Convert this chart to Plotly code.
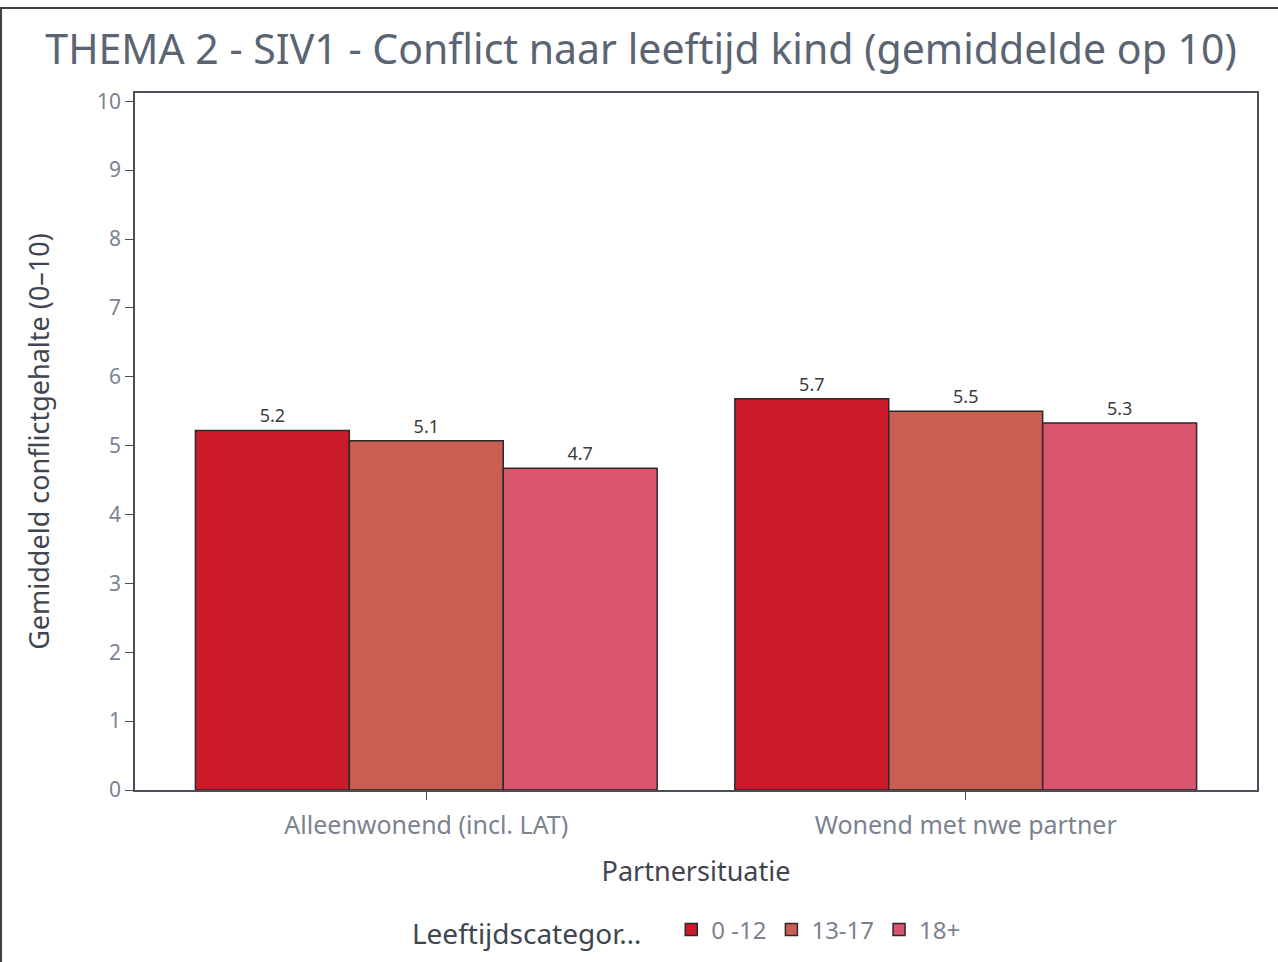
import plotly.graph_objects as go

categories = ["Alleenwonend (incl. LAT)", "Wonend met nwe partner"]
series_names = ["0 -12", "13-17", "18+"]
values_0_12 = [5.22, 5.68]
values_13_17 = [5.07, 5.50]
values_18plus = [4.67, 5.33]
colors = ["#cb1b2b", "#cb5e52", "#d9566e"]

FONT = "Noto Sans"
fig = go.Figure()
for name, vals, col in zip(series_names, [values_0_12, values_13_17, values_18plus], colors):
    fig.add_trace(go.Bar(
        x=categories, y=vals, name=name,
        marker=dict(color=col, line=dict(color="#2a2a2a", width=1.5)),
        texttemplate="%{y:.1f}", textposition="outside",
        textfont=dict(size=18, color="#3a3a3a", family=FONT),
        cliponaxis=False,
    ))

fig.update_layout(
    width=1278, height=962,
    margin=dict(l=135, r=21, t=93, b=172, autoexpand=False),
    paper_bgcolor="white", plot_bgcolor="white",
    barmode="group", bargap=0.144, bargroupgap=0,
    font=dict(family=FONT, color="#5b6472"),
    title=dict(text="THEMA 2 - SIV1 - Conflict naar leeftijd kind (gemiddelde op 10)",
               x=0.5016, xref="container", xanchor="center", y=0.948, yref="container", yanchor="middle",
               font=dict(size=41, color="#5b6472", family=FONT)),
    xaxis=dict(range=[-0.54, 1.54], showline=True, linecolor="#4a4f57", linewidth=1.5, mirror=True,
               ticks="outside", ticklen=8, tickcolor="#4a4f57", ticklabelstandoff=4, automargin=False,
               tickfont=dict(size=25, color="#7b8290"),
               title=dict(text="Partnersituatie", font=dict(size=27, color="#3f4650"), standoff=22)),
    yaxis=dict(range=[0, 10.12], tickvals=list(range(0, 11)), showline=True, linecolor="#4a4f57",
               linewidth=1.5, mirror=True, showgrid=False, zeroline=False, automargin=False,
               ticks="outside", ticklen=8, tickcolor="#4a4f57",
               tickfont=dict(size=21, color="#7b8290"),
               title=dict(text="Gemiddeld conflictgehalte (0–10)", font=dict(size=27, color="#3f4650"), standoff=40)),
    legend=dict(orientation="h", x=0.245, xanchor="left", y=-0.202, yanchor="middle",
                title=dict(text="Leeftijdscategor…   ", font=dict(size=28, color="#3f4650")),
                font=dict(size=24, color="#7b8290"), itemwidth=30, traceorder="normal"),
    shapes=[dict(type="rect", xref="paper", yref="paper", x0=-0.1194, x1=1.05, y0=-0.3, y1=1.122,
                 line=dict(color="#3a3f47", width=2), fillcolor="rgba(0,0,0,0)", layer="below")],
)

fig.write_html("out.html", config={"displayModeBar": False},
               post_script="document.body.style.margin='0';")
